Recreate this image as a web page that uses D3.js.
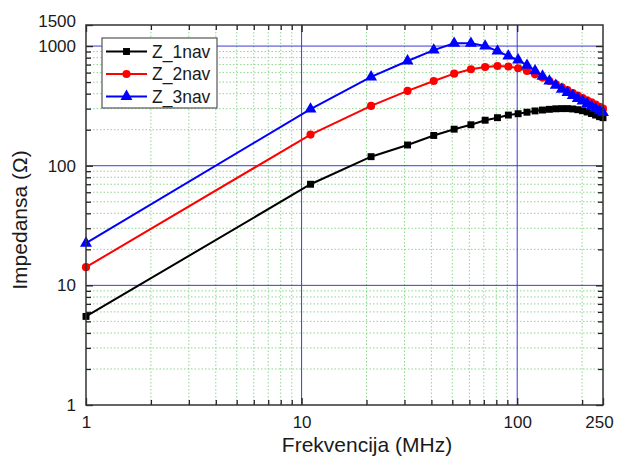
<!DOCTYPE html>
<html>
<head>
<meta charset="utf-8">
<script src="https://cdn.jsdelivr.net/npm/d3@7"></script>
<style>
  body { margin: 0; background: #fff; }
  svg { display: block; }
  text { font-family: "Liberation Sans", Arial, sans-serif; fill: #1a1a1a; }
</style>
</head>
<body>
<svg id="chart" width="622" height="457"></svg>
<script>
// Sweep frequencies (MHz)
const freqMHz = [1, 11, 21, 31, 41, 51, 61, 71, 81, 91, 101, 111, 121, 131, 141, 151, 161, 171, 181, 191, 201, 211, 221, 231, 241, 250];

// Impedance magnitude (Ohm) for 1, 2 and 3 windings
const z1nav = [5.5, 70, 119, 149, 179, 202, 220, 240, 252, 265, 272, 280, 287, 292, 296, 299, 300, 300, 298, 294, 288, 281, 273, 265, 257, 252];
const z2nav = [14.2, 182, 316, 422, 511, 588, 640, 669, 681, 675, 652, 620, 580, 545, 510, 480, 452, 428, 405, 386, 368, 352, 338, 324, 311, 300];
const z3nav = [22.5, 297, 552, 750, 926, 1055, 1055, 1000, 908, 825, 765, 690, 620, 560, 510, 470, 435, 408, 385, 365, 347, 330, 315, 300, 288, 278];

const seriesNames = ["Z_1nav", "Z_2nav", "Z_3nav"];
const seriesColors = ["#000000", "#ff0000", "#0000ff"];
const seriesSymbols = [d3.symbolSquare, d3.symbolCircle, d3.symbolTriangle];
const seriesSymbolSizes = [48, 52, 62];

const xTickLabels = [1, 10, 100, 250];
const yTickLabels = [1, 10, 100, 1000, 1500];

const xTitle = "Frekvencija (MHz)";
const yTitle = "Impedansa (\u03A9)";

const svg = d3.select("#chart");
const pLeft = 86, pRight = 603, pTop = 25, pBottom = 405;

const x = d3.scaleLog().domain([1, 250]).range([pLeft, pRight]);
const y = d3.scaleLog().domain([1, 1500]).range([pBottom, pTop]);

// decade (major) and in-between (minor) positions
function logSteps(lo, hi) {
  const major = [], minor = [];
  for (let p = 1; p <= hi; p *= 10) {
    for (let k = 1; k <= 9; k++) {
      const v = k * p;
      if (v < lo || v > hi) continue;
      (k === 1 ? major : minor).push(v);
    }
  }
  return { major, minor };
}
const xs = logSteps(1, 250);
const ys = logSteps(1, 1500);

// minor grid (dotted green)
const grid = svg.append("g");
grid.selectAll("line.xm").data(xs.minor).join("line")
  .attr("x1", d => x(d)).attr("x2", d => x(d))
  .attr("y1", pTop).attr("y2", pBottom)
  .attr("stroke", "#8fd68f").attr("stroke-width", 1).attr("stroke-dasharray", "1.5,2");
grid.selectAll("line.ym").data(ys.minor).join("line")
  .attr("y1", d => y(d)).attr("y2", d => y(d))
  .attr("x1", pLeft).attr("x2", pRight)
  .attr("stroke", "#8fd68f").attr("stroke-width", 1).attr("stroke-dasharray", "1.5,2");

// major grid (solid blue)
grid.selectAll("line.xM").data(xs.major.filter(d => d > 1)).join("line")
  .attr("x1", d => x(d)).attr("x2", d => x(d))
  .attr("y1", pTop).attr("y2", pBottom)
  .attr("stroke", "#3b3bd6").attr("stroke-width", 1);
grid.selectAll("line.yM").data(ys.major.filter(d => d > 1)).join("line")
  .attr("y1", d => y(d)).attr("y2", d => y(d))
  .attr("x1", pLeft).attr("x2", pRight)
  .attr("stroke", "#3b3bd6").attr("stroke-width", 1);

// axes with inward ticks
function styleAxis(g) {
  g.select(".domain").remove();
  g.selectAll(".tick line").attr("stroke", "#222").attr("stroke-width", 1.3);
  g.selectAll("text").attr("font-size", 17).attr("fill", "#1a1a1a")
    .attr("font-family", "Liberation Sans, Arial, sans-serif");
}

const axisG = svg.append("g");
axisG.append("g").attr("transform", `translate(0,${pBottom})`)
  .call(d3.axisBottom(x).tickValues(xTickLabels).tickFormat(d3.format("d"))
    .tickSizeInner(-7).tickSizeOuter(0).tickPadding(11))
  .call(styleAxis)
  .call(g => g.selectAll(".tick").filter(d => d === 250).select("text").attr("dx", -4));
axisG.append("g").attr("transform", `translate(0,${pBottom})`)
  .call(d3.axisBottom(x).tickValues(xs.minor).tickFormat("").tickSizeInner(-5).tickSizeOuter(0))
  .call(styleAxis);
axisG.append("g").attr("transform", `translate(0,${pTop})`)
  .call(d3.axisTop(x).tickValues(xs.major).tickFormat("").tickSizeInner(-7).tickSizeOuter(0))
  .call(styleAxis);
axisG.append("g").attr("transform", `translate(0,${pTop})`)
  .call(d3.axisTop(x).tickValues(xs.minor).tickFormat("").tickSizeInner(-5).tickSizeOuter(0))
  .call(styleAxis);

axisG.append("g").attr("transform", `translate(${pLeft},0)`)
  .call(d3.axisLeft(y).tickValues(yTickLabels).tickFormat(d3.format("d"))
    .tickSizeInner(-7).tickSizeOuter(0).tickPadding(10))
  .call(styleAxis)
  .call(g => g.selectAll(".tick").filter(d => d === 1500).select("text").attr("y", -4));
axisG.append("g").attr("transform", `translate(${pLeft},0)`)
  .call(d3.axisLeft(y).tickValues(ys.minor).tickFormat("").tickSizeInner(-5).tickSizeOuter(0))
  .call(styleAxis);
axisG.append("g").attr("transform", `translate(${pRight},0)`)
  .call(d3.axisRight(y).tickValues(ys.major).tickFormat("").tickSizeInner(-7).tickSizeOuter(0))
  .call(styleAxis);
axisG.append("g").attr("transform", `translate(${pRight},0)`)
  .call(d3.axisRight(y).tickValues(ys.minor).tickFormat("").tickSizeInner(-5).tickSizeOuter(0))
  .call(styleAxis);

// curves
const seriesValues = [z1nav, z2nav, z3nav];
const line = d3.line().x(d => x(d[0])).y(d => y(d[1]));
const plot = svg.append("g");
seriesValues.forEach((vals, i) => {
  const pts = freqMHz.map((f, j) => [f, vals[j]]);
  plot.append("path").datum(pts)
    .attr("d", line).attr("fill", "none")
    .attr("stroke", seriesColors[i]).attr("stroke-width", 2);
  plot.selectAll(null).data(pts).join("path")
    .attr("transform", d => `translate(${x(d[0])},${y(d[1])})`)
    .attr("d", d3.symbol().type(seriesSymbols[i]).size(seriesSymbolSizes[i]))
    .attr("fill", seriesColors[i]);
});

// plot frame
svg.append("rect")
  .attr("x", pLeft).attr("y", pTop)
  .attr("width", pRight - pLeft).attr("height", pBottom - pTop)
  .attr("fill", "none").attr("stroke", "#333").attr("stroke-width", 1.5);

// legend
const lg = svg.append("g").attr("transform", "translate(102,38)");
lg.append("rect").attr("width", 115).attr("height", 70)
  .attr("fill", "#fff").attr("stroke", "#555").attr("stroke-width", 1.2);
seriesNames.forEach((name, i) => {
  const cy = 13.5 + i * 22.5;
  lg.append("line").attr("x1", 4).attr("x2", 45).attr("y1", cy).attr("y2", cy)
    .attr("stroke", seriesColors[i]).attr("stroke-width", 2);
  lg.append("path").attr("transform", `translate(24.5,${cy})`)
    .attr("d", d3.symbol().type(seriesSymbols[i]).size(seriesSymbolSizes[i]))
    .attr("fill", seriesColors[i]);
  lg.append("text").attr("x", 50).attr("y", cy).attr("dy", "0.36em")
    .attr("font-size", 17.5).text(name);
});

// axis titles
svg.append("text").attr("x", 367).attr("y", 452)
  .attr("text-anchor", "middle").attr("font-size", 21).text(xTitle);
svg.append("text").attr("transform", "translate(27,220) rotate(-90)")
  .attr("text-anchor", "middle").attr("font-size", 21).text(yTitle);
</script>
</body>
</html>
